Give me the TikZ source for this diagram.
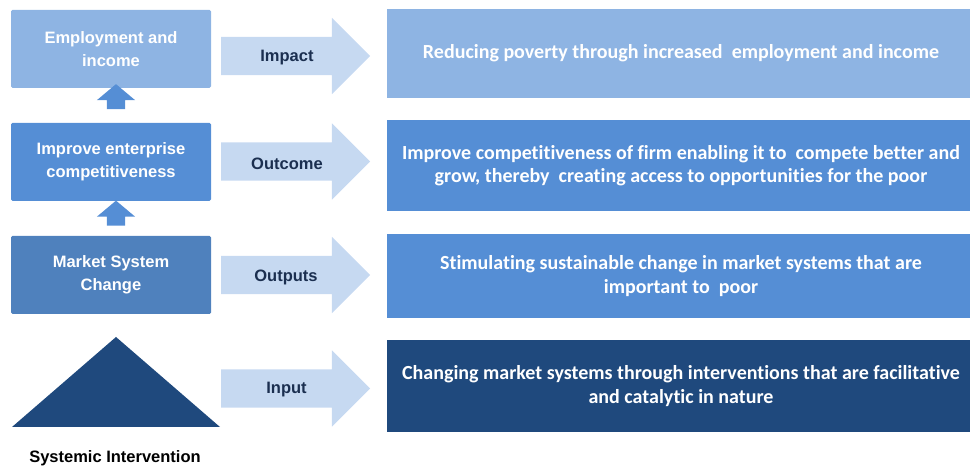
\documentclass[tikz,border=0pt]{standalone}
\usepackage{fontspec}
\setmainfont{Liberation Sans}
\newfontfamily\califont[Ligatures=NoCommon]{Carlito}
\usetikzlibrary{shapes.arrows}
\definecolor{paleblue}{HTML}{8EB4E3}
\definecolor{midblue}{HTML}{558ED5}
\definecolor{steelblue}{HTML}{4F81BD}
\definecolor{navyblue}{HTML}{1F497D}
\definecolor{arrowblue}{HTML}{C6D9F1}
\definecolor{labelnavy}{HTML}{1B2F50}

\begin{document}
\begin{tikzpicture}[x=1pt,y=1pt,yscale=-1,
    levelbox/.style={align=center, minimum width=200pt, minimum height=78pt, rounded corners=1.5pt, text=white, font=\fontsize{16.5}{23}\selectfont\bfseries},
    resultbox/.style={align=center, minimum width=588pt, text=white, font=\califont\fontsize{20}{23.5}\selectfont\bfseries},
    stagearrow/.style={single arrow, fill=arrowblue, minimum height=149pt, inner xsep=0pt, inner ysep=19pt, single arrow head extend=19pt, single arrow head indent=0pt, outer sep=0pt, anchor=west},
    uparrow/.style={single arrow, fill=midblue, rotate=90, minimum height=25pt, inner xsep=0pt, inner ysep=9pt, single arrow head extend=10pt, single arrow tip angle=100, outer sep=0pt},
    stagelabel/.style={text=labelnavy, font=\fontsize{16.5}{20}\selectfont\bfseries}]

    \useasboundingbox (0,0) rectangle (970,470);

    % left column
    \draw (111,49)  node [levelbox, fill=paleblue] (income) {Employment and\\income};
    \draw (111,162) node [levelbox, fill=midblue] (compete) {Improve enterprise\\competitiveness};
    \draw (111,275) node [levelbox, fill=steelblue] (market) {Market System\\Change};
    \draw (116,100.5) node [uparrow] (up1) {};
    \draw (116,217) node [uparrow] (up2) {};
    \coordinate (tl) at (12,427);
    \coordinate (tt) at (116,337);
    \coordinate (tr) at (220,427);
    \fill [navyblue] (tl) -- (tt) -- (tr) -- cycle;
    \draw (115,458) node [font=\fontsize{16.5}{20}\selectfont\bfseries] (systemic) {Systemic Intervention};

    % stage arrows
    \draw (221,56)    node [stagearrow] (impact) {};
    \draw (221,161.5) node [stagearrow] (outcome) {};
    \draw (221,275)   node [stagearrow] (outputs) {};
    \draw (221,388.5) node [stagearrow] (input) {};
    \draw (287,58)    node [stagelabel] (impactlbl) {Impact};
    \draw (287,163.5) node [stagelabel] (outcomelbl) {Outcome};
    \draw (286,277)   node [stagelabel] (outputslbl) {Outputs};
    \draw (286.5,390) node [stagelabel] (inputlbl) {Input};

    % right column
    \draw (681,53.5) node [resultbox, fill=paleblue, minimum height=89pt] (poverty) {Reducing poverty through increased~ employment and income};
    \draw (681,165.5) node [resultbox, fill=midblue, minimum height=91pt] (firm) {Improve competitiveness of firm enabling it to~ compete better and\\grow, thereby~ creating access to opportunities for the poor};
    \draw (681,276) node [resultbox, fill=midblue, minimum height=84pt] (stimulate) {Stimulating sustainable change in market systems that are\\important to~ poor};
    \draw (681,386) node [resultbox, fill=navyblue, minimum height=92pt] (changing) {Changing market systems through interventions that are facilitative\\and catalytic in nature};

\end{tikzpicture}
\end{document}
